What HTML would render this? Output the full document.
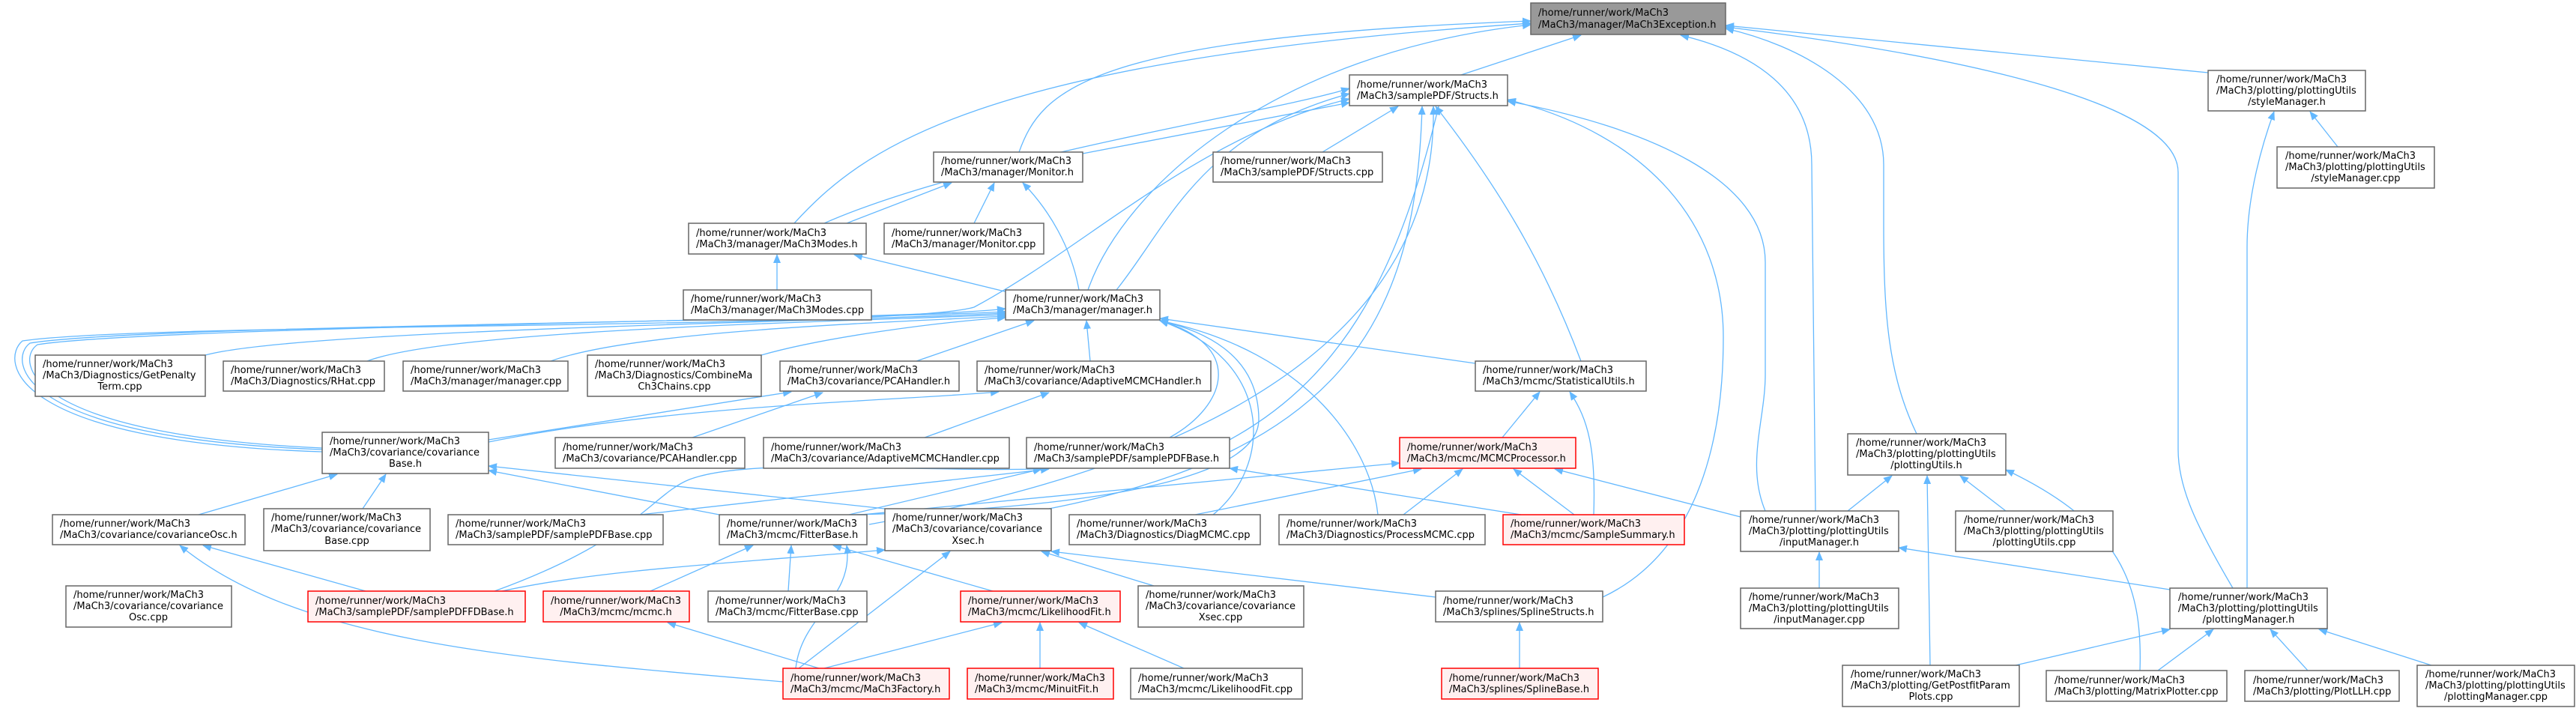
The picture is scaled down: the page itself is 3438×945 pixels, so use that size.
<!DOCTYPE html>
<html><head><meta charset="utf-8"><style>
html,body{margin:0;padding:0;background:#fff;}
svg{display:block;}
text{font-family:"DejaVu Sans","Liberation Sans",sans-serif;font-size:13px;fill:#000;}
.e{fill:none;stroke:#63b8ff;stroke-width:1.3;marker-end:url(#a);}
.n{fill:#fff;stroke:#666;stroke-width:1.5;}
.r{fill:#fff0f0;stroke:#ff0000;stroke-width:1.5;}
.g{fill:#999;stroke:#666;stroke-width:1.5;}
</style></head><body>
<svg width="3438" height="945" viewBox="0 0 3438 945" xmlns="http://www.w3.org/2000/svg">
<defs><marker id="a" markerUnits="userSpaceOnUse" markerWidth="12" markerHeight="10" refX="11" refY="5" orient="auto"><path d="M0,0 L12,5 L0,10 z" fill="#63b8ff"/></marker></defs>
<g>
<!-- Exception edges -->
<path class="e" d="M1950,100 L2110,47"/>
<path class="e" d="M1360,203 C1390,120 1450,50 2043,28"/>
<path class="e" d="M1060,298 C1150,200 1300,80 2043,31"/>
<path class="e" d="M1100,298 C1300,210 1700,150 1801,118"/>
<path class="e" d="M1452,387 C1500,250 1700,70 2043,33"/>
<path class="e" d="M1490,387 C1560,300 1600,180 1801,125"/>
<path class="e" d="M1445,205 L1801,137"/>
<path class="e" d="M1765,203 L1866,142"/>
<path class="e" d="M1300,298 L1327,244"/>
<path class="e" d="M1130,298 L1270,244"/>
<path class="e" d="M1440,387 C1430,330 1400,280 1365,244"/>
<path class="e" d="M1037,387 L1037,340"/>
<path class="e" d="M1345,390 L1140,340"/>
<path class="e" d="M430,603 C10,590 0,480 30,455 C200,430 1200,440 1300,410 C1450,330 1600,180 1801,132"/>
<path class="e" d="M430,600 C20,585 10,480 40,458 C200,432 1200,430 1342,412"/>
<path class="e" d="M430,598 C30,580 20,480 50,460 C200,436 1200,425 1342,416"/>
<path class="e" d="M274,474 C400,440 1100,430 1342,418"/>
<path class="e" d="M490,482 C600,440 1100,430 1342,420"/>
<path class="e" d="M735,482 C850,440 1200,430 1342,422"/>
<path class="e" d="M1016,474 C1100,450 1250,430 1342,424"/>
<path class="e" d="M1223,482 L1380,428"/>
<path class="e" d="M1455,482 L1450,428"/>
<path class="e" d="M1969,485 L1548,425"/>
<path class="e" d="M1561,584 C1640,540 1660,460 1548,428"/>
<path class="e" d="M1619,687 C1700,620 1700,480 1548,428"/>
<path class="e" d="M1839,687 C1830,600 1750,470 1548,428"/>
<path class="e" d="M1140,687 C1400,680 1680,650 1680,560 C1680,470 1600,440 1548,428"/>
<path class="e" d="M652,587 L1056,523"/>
<path class="e" d="M652,590 C900,540 1200,535 1333,523"/>
<path class="e" d="M924,584 L1098,524"/>
<path class="e" d="M1234,584 L1400,524"/>
<path class="e" d="M265,687 L450,633"/>
<path class="e" d="M484,679 L515,633"/>
<path class="e" d="M960,687 L652,628"/>
<path class="e" d="M1181,679 L652,622"/>
<path class="e" d="M854,687 L1400,626"/>
<path class="e" d="M660,789 C850,720 870,660 920,640 C1000,610 1200,630 1390,626"/>
<path class="e" d="M670,789 C800,760 1000,750 1181,734"/>
<path class="e" d="M1133,687 L1390,626"/>
<path class="e" d="M1140,688 L1868,618"/>
<path class="e" d="M488,789 L271,728"/>
<path class="e" d="M1045,910 C700,880 400,860 240,728"/>
<path class="e" d="M868,789 L1005,728"/>
<path class="e" d="M1052,789 L1056,728"/>
<path class="e" d="M1325,789 L1112,728"/>
<path class="e" d="M1062,892 C1070,820 1140,800 1130,728"/>
<path class="e" d="M1066,892 L1268,736"/>
<path class="e" d="M1093,892 L891,831"/>
<path class="e" d="M1100,892 L1337,831"/>
<path class="e" d="M1388,892 L1388,831"/>
<path class="e" d="M1580,892 L1440,831"/>
<path class="e" d="M1540,782 L1390,736"/>
<path class="e" d="M1916,797 L1403,736"/>
<path class="e" d="M2139,797 C2260,740 2300,600 2300,450 C2300,300 2200,180 2012,133"/>
<path class="e" d="M2028,892 L2028,831"/>
<path class="e" d="M2110,482 C2060,350 2000,250 1916,142"/>
<path class="e" d="M2005,584 L2055,523"/>
<path class="e" d="M2127,687 C2130,600 2120,560 2095,523"/>
<path class="e" d="M2101,687 L2020,626"/>
<path class="e" d="M2030,687 L1641,625"/>
<path class="e" d="M1595,687 L1897,626"/>
<path class="e" d="M1873,687 L1952,626"/>
<path class="e" d="M2323,690 L2075,626"/>
<path class="e" d="M1400,679 C1800,600 1890,420 1898,142"/>
<path class="e" d="M1160,700 C1500,640 1920,500 1913,142"/>
<path class="e" d="M1641,587 C1800,500 1870,350 1920,142"/>
<path class="e" d="M2356,682 C2330,620 2356,560 2356,500 L2356,350 C2356,240 2200,170 2012,135"/>
<path class="e" d="M2423,682 L2418,220 C2418,120 2340,70 2243,47"/>
<path class="e" d="M2558,579 C2520,500 2514,420 2514,300 L2514,220 C2514,120 2400,60 2303,38"/>
<path class="e" d="M2980,785 C2930,700 2907,650 2907,600 L2907,230 C2907,120 2500,60 2303,36"/>
<path class="e" d="M2999,785 L2999,330 C2999,260 3020,190 3035,149"/>
<path class="e" d="M2947,97 L2303,34"/>
<path class="e" d="M3120,196 L3083,149"/>
<path class="e" d="M2466,682 L2525,635"/>
<path class="e" d="M2677,682 L2616,635"/>
<path class="e" d="M2576,888 L2572,635"/>
<path class="e" d="M2856,895 C2860,780 2830,700 2677,627"/>
<path class="e" d="M2428,785 L2428,737"/>
<path class="e" d="M2896,787 L2534,731"/>
<path class="e" d="M2690,888 L2896,840"/>
<path class="e" d="M2880,895 L2954,840"/>
<path class="e" d="M3080,895 L3030,840"/>
<path class="e" d="M3245,888 L3095,840"/>
</g>
<g>
<rect class="g" x="2043" y="4" width="260" height="42"/><text x="2053" y="21">/home/runner/work/MaCh3</text><text x="2053" y="37">/MaCh3/manager/MaCh3Exception.h</text>
<rect class="n" x="1801" y="100" width="211" height="41"/><text x="1811" y="117">/home/runner/work/MaCh3</text><text x="1811" y="132">/MaCh3/samplePDF/Structs.h</text>
<rect class="n" x="1246" y="203" width="199" height="40"/><text x="1256" y="219">/home/runner/work/MaCh3</text><text x="1256" y="234">/MaCh3/manager/Monitor.h</text>
<rect class="n" x="1619" y="203" width="226" height="40"/><text x="1629" y="219">/home/runner/work/MaCh3</text><text x="1629" y="234">/MaCh3/samplePDF/Structs.cpp</text>
<rect class="n" x="1180" y="298" width="213" height="41"/><text x="1190" y="315">/home/runner/work/MaCh3</text><text x="1190" y="330">/MaCh3/manager/Monitor.cpp</text>
<rect class="n" x="919" y="298" width="237" height="41"/><text x="929" y="315">/home/runner/work/MaCh3</text><text x="929" y="330">/MaCh3/manager/MaCh3Modes.h</text>
<rect class="n" x="912" y="387" width="251" height="40"/><text x="922" y="403">/home/runner/work/MaCh3</text><text x="922" y="418">/MaCh3/manager/MaCh3Modes.cpp</text>
<rect class="n" x="1342" y="387" width="206" height="40"/><text x="1352" y="403">/home/runner/work/MaCh3</text><text x="1352" y="418">/MaCh3/manager/manager.h</text>
<rect class="n" x="47" y="474" width="227" height="55"/><text x="57" y="490">/home/runner/work/MaCh3</text><text x="57" y="505">/MaCh3/Diagnostics/GetPenalty</text><text x="160" y="520" text-anchor="middle">Term.cpp</text>
<rect class="n" x="298" y="482" width="215" height="40"/><text x="308" y="498">/home/runner/work/MaCh3</text><text x="308" y="513">/MaCh3/Diagnostics/RHat.cpp</text>
<rect class="n" x="538" y="482" width="220" height="40"/><text x="548" y="498">/home/runner/work/MaCh3</text><text x="548" y="513">/MaCh3/manager/manager.cpp</text>
<rect class="n" x="784" y="474" width="232" height="55"/><text x="794" y="490">/home/runner/work/MaCh3</text><text x="794" y="505">/MaCh3/Diagnostics/CombineMa</text><text x="900" y="520" text-anchor="middle">Ch3Chains.cpp</text>
<rect class="n" x="1041" y="482" width="239" height="40"/><text x="1051" y="498">/home/runner/work/MaCh3</text><text x="1051" y="513">/MaCh3/covariance/PCAHandler.h</text>
<rect class="n" x="1304" y="482" width="312" height="40"/><text x="1314" y="498">/home/runner/work/MaCh3</text><text x="1314" y="513">/MaCh3/covariance/AdaptiveMCMCHandler.h</text>
<rect class="n" x="1969" y="482" width="228" height="40"/><text x="1979" y="498">/home/runner/work/MaCh3</text><text x="1979" y="513">/MaCh3/mcmc/StatisticalUtils.h</text>
<rect class="n" x="430" y="577" width="222" height="55"/><text x="440" y="593">/home/runner/work/MaCh3</text><text x="440" y="608">/MaCh3/covariance/covariance</text><text x="541" y="623" text-anchor="middle">Base.h</text>
<rect class="n" x="741" y="584" width="253" height="41"/><text x="751" y="601">/home/runner/work/MaCh3</text><text x="751" y="616">/MaCh3/covariance/PCAHandler.cpp</text>
<rect class="n" x="1019" y="584" width="328" height="41"/><text x="1029" y="601">/home/runner/work/MaCh3</text><text x="1029" y="616">/MaCh3/covariance/AdaptiveMCMCHandler.cpp</text>
<rect class="n" x="1370" y="584" width="271" height="41"/><text x="1380" y="601">/home/runner/work/MaCh3</text><text x="1380" y="616">/MaCh3/samplePDF/samplePDFBase.h</text>
<rect class="r" x="1868" y="584" width="235" height="41"/><text x="1878" y="601">/home/runner/work/MaCh3</text><text x="1878" y="616">/MaCh3/mcmc/MCMCProcessor.h</text>
<rect class="n" x="70" y="687" width="257" height="40"/><text x="80" y="703">/home/runner/work/MaCh3</text><text x="80" y="718">/MaCh3/covariance/covarianceOsc.h</text>
<rect class="n" x="352" y="679" width="222" height="56"/><text x="362" y="695">/home/runner/work/MaCh3</text><text x="362" y="710">/MaCh3/covariance/covariance</text><text x="463" y="726" text-anchor="middle">Base.cpp</text>
<rect class="n" x="598" y="687" width="287" height="40"/><text x="608" y="703">/home/runner/work/MaCh3</text><text x="608" y="718">/MaCh3/samplePDF/samplePDFBase.cpp</text>
<rect class="n" x="960" y="687" width="197" height="40"/><text x="970" y="703">/home/runner/work/MaCh3</text><text x="970" y="718">/MaCh3/mcmc/FitterBase.h</text>
<rect class="n" x="1181" y="679" width="222" height="56"/><text x="1191" y="695">/home/runner/work/MaCh3</text><text x="1191" y="710">/MaCh3/covariance/covariance</text><text x="1292" y="726" text-anchor="middle">Xsec.h</text>
<rect class="n" x="1427" y="687" width="255" height="40"/><text x="1437" y="703">/home/runner/work/MaCh3</text><text x="1437" y="718">/MaCh3/Diagnostics/DiagMCMC.cpp</text>
<rect class="n" x="1707" y="687" width="275" height="40"/><text x="1717" y="703">/home/runner/work/MaCh3</text><text x="1717" y="718">/MaCh3/Diagnostics/ProcessMCMC.cpp</text>
<rect class="r" x="2006" y="687" width="242" height="40"/><text x="2016" y="703">/home/runner/work/MaCh3</text><text x="2016" y="718">/MaCh3/mcmc/SampleSummary.h</text>
<rect class="n" x="88" y="782" width="221" height="55"/><text x="98" y="798">/home/runner/work/MaCh3</text><text x="98" y="813">/MaCh3/covariance/covariance</text><text x="198" y="828" text-anchor="middle">Osc.cpp</text>
<rect class="r" x="411" y="789" width="290" height="41"/><text x="421" y="806">/home/runner/work/MaCh3</text><text x="421" y="821">/MaCh3/samplePDF/samplePDFFDBase.h</text>
<rect class="r" x="725" y="789" width="195" height="41"/><text x="735" y="806">/home/runner/work/MaCh3</text><text x="822" y="821" text-anchor="middle">/MaCh3/mcmc/mcmc.h</text>
<rect class="n" x="945" y="789" width="212" height="41"/><text x="955" y="806">/home/runner/work/MaCh3</text><text x="955" y="821">/MaCh3/mcmc/FitterBase.cpp</text>
<rect class="r" x="1282" y="789" width="213" height="41"/><text x="1292" y="806">/home/runner/work/MaCh3</text><text x="1292" y="821">/MaCh3/mcmc/LikelihoodFit.h</text>
<rect class="n" x="1519" y="782" width="221" height="55"/><text x="1529" y="798">/home/runner/work/MaCh3</text><text x="1529" y="813">/MaCh3/covariance/covariance</text><text x="1629" y="828" text-anchor="middle">Xsec.cpp</text>
<rect class="n" x="1916" y="789" width="223" height="41"/><text x="1926" y="806">/home/runner/work/MaCh3</text><text x="1926" y="821">/MaCh3/splines/SplineStructs.h</text>
<rect class="r" x="1045" y="892" width="222" height="41"/><text x="1055" y="909">/home/runner/work/MaCh3</text><text x="1055" y="924">/MaCh3/mcmc/MaCh3Factory.h</text>
<rect class="r" x="1291" y="892" width="195" height="41"/><text x="1301" y="909">/home/runner/work/MaCh3</text><text x="1301" y="924">/MaCh3/mcmc/MinuitFit.h</text>
<rect class="n" x="1509" y="892" width="229" height="41"/><text x="1519" y="909">/home/runner/work/MaCh3</text><text x="1519" y="924">/MaCh3/mcmc/LikelihoodFit.cpp</text>
<rect class="r" x="1924" y="892" width="209" height="41"/><text x="1934" y="909">/home/runner/work/MaCh3</text><text x="1934" y="924">/MaCh3/splines/SplineBase.h</text>
<rect class="n" x="2947" y="94" width="210" height="54"/><text x="2958" y="110">/home/runner/work/MaCh3</text><text x="2958" y="125">/MaCh3/plotting/plottingUtils</text><text x="3052" y="140" text-anchor="middle">/styleManager.h</text>
<rect class="n" x="3039" y="196" width="210" height="55"/><text x="3050" y="212">/home/runner/work/MaCh3</text><text x="3050" y="227">/MaCh3/plotting/plottingUtils</text><text x="3144" y="242" text-anchor="middle">/styleManager.cpp</text>
<rect class="n" x="2466" y="579" width="211" height="55"/><text x="2477" y="595">/home/runner/work/MaCh3</text><text x="2477" y="610">/MaCh3/plotting/plottingUtils</text><text x="2571" y="625" text-anchor="middle">/plottingUtils.h</text>
<rect class="n" x="2323" y="682" width="211" height="54"/><text x="2334" y="698">/home/runner/work/MaCh3</text><text x="2334" y="713">/MaCh3/plotting/plottingUtils</text><text x="2428" y="728" text-anchor="middle">/inputManager.h</text>
<rect class="n" x="2610" y="682" width="210" height="54"/><text x="2621" y="698">/home/runner/work/MaCh3</text><text x="2621" y="713">/MaCh3/plotting/plottingUtils</text><text x="2715" y="728" text-anchor="middle">/plottingUtils.cpp</text>
<rect class="n" x="2323" y="785" width="211" height="54"/><text x="2334" y="801">/home/runner/work/MaCh3</text><text x="2334" y="816">/MaCh3/plotting/plottingUtils</text><text x="2428" y="831" text-anchor="middle">/inputManager.cpp</text>
<rect class="n" x="2896" y="785" width="210" height="54"/><text x="2907" y="801">/home/runner/work/MaCh3</text><text x="2907" y="816">/MaCh3/plotting/plottingUtils</text><text x="3001" y="831" text-anchor="middle">/plottingManager.h</text>
<rect class="n" x="2459" y="888" width="236" height="55"/><text x="2470" y="904">/home/runner/work/MaCh3</text><text x="2470" y="919">/MaCh3/plotting/GetPostfitParam</text><text x="2577" y="934" text-anchor="middle">Plots.cpp</text>
<rect class="n" x="2731" y="895" width="241" height="41"/><text x="2742" y="912">/home/runner/work/MaCh3</text><text x="2742" y="927">/MaCh3/plotting/MatrixPlotter.cpp</text>
<rect class="n" x="2996" y="895" width="206" height="41"/><text x="3007" y="912">/home/runner/work/MaCh3</text><text x="3007" y="927">/MaCh3/plotting/PlotLLH.cpp</text>
<rect class="n" x="3226" y="888" width="210" height="55"/><text x="3237" y="904">/home/runner/work/MaCh3</text><text x="3237" y="919">/MaCh3/plotting/plottingUtils</text><text x="3331" y="934" text-anchor="middle">/plottingManager.cpp</text>
</g>
</svg>
</body></html>
